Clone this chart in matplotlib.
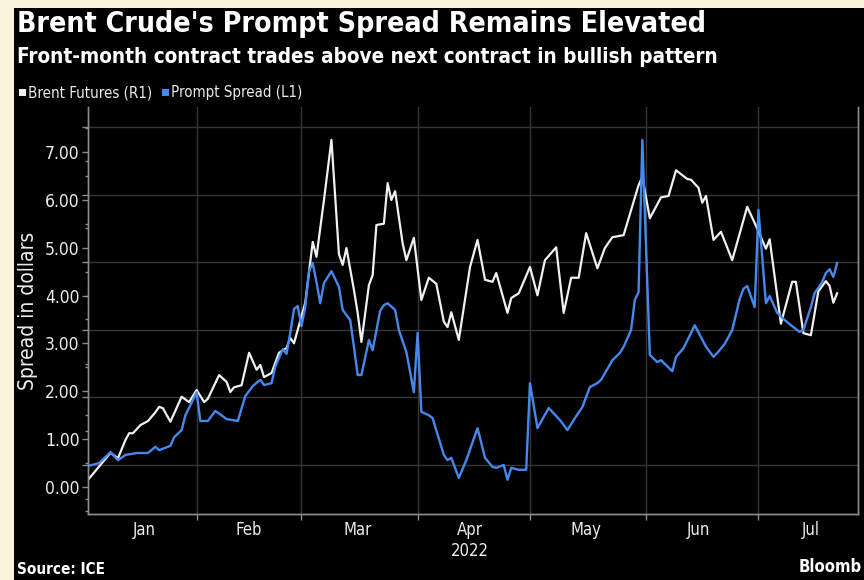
import numpy as np
import pandas as pd
import matplotlib
matplotlib.use("Agg")
import matplotlib.pyplot as plt
import matplotlib.dates as mdates
from matplotlib.patches import Rectangle
from matplotlib.ticker import MultipleLocator, FormatStrFormatter, NullFormatter

plt.rcParams['font.family'] = ['Liberation Sans Narrow', 'DejaVu Sans']
plt.rcParams['font.stretch'] = 'condensed'

# Brent futures (R1, right axis), USD/bbl
brent_dates = ["2022-01-03", "2022-01-09", "2022-01-11", "2022-01-13", "2022-01-14", "2022-01-15",
               "2022-01-17", "2022-01-19", "2022-01-21", "2022-01-22", "2022-01-23", "2022-01-25",
               "2022-01-28", "2022-01-30",
               "2022-02-01", "2022-02-03", "2022-02-04", "2022-02-07", "2022-02-09", "2022-02-10",
               "2022-02-11", "2022-02-13", "2022-02-15", "2022-02-17", "2022-02-18", "2022-02-19",
               "2022-02-21", "2022-02-23", "2022-02-25", "2022-02-26", "2022-02-27", "2022-02-28",
               "2022-03-02", "2022-03-04", "2022-03-05", "2022-03-07", "2022-03-09", "2022-03-11",
               "2022-03-12", "2022-03-13", "2022-03-15", "2022-03-16", "2022-03-17", "2022-03-19",
               "2022-03-20", "2022-03-21", "2022-03-23", "2022-03-24", "2022-03-25", "2022-03-26",
               "2022-03-28", "2022-03-29", "2022-03-31",
               "2022-04-02", "2022-04-04", "2022-04-06", "2022-04-08", "2022-04-09", "2022-04-10",
               "2022-04-12", "2022-04-15", "2022-04-17", "2022-04-19", "2022-04-21", "2022-04-22",
               "2022-04-25", "2022-04-26", "2022-04-28",
               "2022-05-01", "2022-05-03", "2022-05-05", "2022-05-08", "2022-05-10", "2022-05-12",
               "2022-05-14", "2022-05-16", "2022-05-19", "2022-05-21", "2022-05-23", "2022-05-26",
               "2022-05-28", "2022-05-30", "2022-05-31",
               "2022-06-02", "2022-06-05", "2022-06-07", "2022-06-09", "2022-06-12", "2022-06-13",
               "2022-06-15", "2022-06-16", "2022-06-17", "2022-06-19", "2022-06-21", "2022-06-24",
               "2022-06-28", "2022-06-30",
               "2022-07-03", "2022-07-04", "2022-07-07", "2022-07-10", "2022-07-11", "2022-07-13",
               "2022-07-15", "2022-07-17", "2022-07-19", "2022-07-20", "2022-07-21", "2022-07-22"]
brent_usd = [77.8, 81.8, 81.0, 83.7, 84.7, 84.7,
             85.9, 86.5, 87.8, 88.6, 88.4, 86.4,
             90.1, 89.3,
             91.1, 89.3, 89.8, 93.3, 92.3, 90.8,
             91.5, 91.8, 96.6, 94.1, 94.8, 93.0,
             93.6, 96.6, 97.3, 98.8, 98.0, 100.0,
             104.0, 113.0, 110.8, 119.2, 128.1, 111.2,
             109.6, 112.1, 105.9, 102.5, 98.2, 106.6,
             108.1, 115.5, 115.7, 121.7, 119.2, 120.5,
             112.8, 110.3, 113.6,
             104.4, 107.7, 106.8, 101.2, 100.4, 102.6,
             98.5, 109.3, 113.3, 107.4, 107.1, 108.4,
             102.5, 104.7, 105.4,
             109.3, 105.1, 110.3, 112.2, 102.5, 107.7,
             107.7, 114.3, 109.1, 112.1, 113.7, 114.0,
             117.7, 121.4, 122.6,
             116.5, 119.6, 119.8, 123.6, 122.3, 122.2,
             121.0, 118.8, 119.8, 113.3, 114.5, 110.3,
             118.2, 115.8,
             112.0, 113.4, 100.9, 107.1, 107.1, 99.5,
             99.2, 105.7, 107.2, 106.5, 104.0, 105.4]

# Prompt spread (L1, left axis), USD
spread_dates = ["2022-01-03", "2022-01-06", "2022-01-09", "2022-01-11", "2022-01-13", "2022-01-16",
                "2022-01-19", "2022-01-21", "2022-01-22", "2022-01-25", "2022-01-26", "2022-01-28",
                "2022-01-29",
                "2022-02-01", "2022-02-02", "2022-02-04", "2022-02-06", "2022-02-09", "2022-02-12",
                "2022-02-14", "2022-02-16", "2022-02-18", "2022-02-19", "2022-02-21", "2022-02-22",
                "2022-02-24", "2022-02-25", "2022-02-26", "2022-02-27", "2022-02-28",
                "2022-03-01", "2022-03-02", "2022-03-03", "2022-03-04", "2022-03-05", "2022-03-06",
                "2022-03-07", "2022-03-09", "2022-03-11", "2022-03-12", "2022-03-14", "2022-03-15",
                "2022-03-16", "2022-03-17", "2022-03-19", "2022-03-20", "2022-03-22", "2022-03-23",
                "2022-03-24", "2022-03-26", "2022-03-27", "2022-03-29", "2022-03-31",
                "2022-04-01", "2022-04-02", "2022-04-04", "2022-04-05", "2022-04-08", "2022-04-09",
                "2022-04-10", "2022-04-12", "2022-04-14", "2022-04-17", "2022-04-19", "2022-04-21",
                "2022-04-22", "2022-04-24", "2022-04-25", "2022-04-26", "2022-04-28", "2022-04-30",
                "2022-05-01", "2022-05-03", "2022-05-06", "2022-05-09", "2022-05-11", "2022-05-13",
                "2022-05-15", "2022-05-17", "2022-05-19", "2022-05-20", "2022-05-22", "2022-05-23",
                "2022-05-25", "2022-05-26", "2022-05-28", "2022-05-29", "2022-05-30", "2022-05-31",
                "2022-06-02", "2022-06-04", "2022-06-05", "2022-06-08", "2022-06-09", "2022-06-11",
                "2022-06-14", "2022-06-17", "2022-06-19", "2022-06-20", "2022-06-22", "2022-06-24",
                "2022-06-26", "2022-06-27", "2022-06-28", "2022-06-30",
                "2022-07-01", "2022-07-03", "2022-07-04", "2022-07-06", "2022-07-08", "2022-07-10",
                "2022-07-12", "2022-07-13", "2022-07-15", "2022-07-16", "2022-07-18", "2022-07-19",
                "2022-07-20", "2022-07-21", "2022-07-22"]
spread_usd = [0.44, 0.50, 0.73, 0.56, 0.67, 0.71,
              0.71, 0.84, 0.77, 0.86, 1.04, 1.19,
              1.50,
              1.98, 1.38, 1.38, 1.59, 1.42, 1.38,
              1.90, 2.11, 2.24, 2.13, 2.17, 2.51,
              2.88, 2.78, 3.22, 3.72, 3.78,
              3.36, 3.76, 4.51, 4.68, 4.28, 3.84,
              4.26, 4.51, 4.18, 3.70, 3.49, 2.93,
              2.34, 2.34, 3.07, 2.86, 3.68, 3.80,
              3.84, 3.70, 3.28, 2.82, 1.98,
              3.22, 1.57, 1.50, 1.44, 0.67, 0.56,
              0.61, 0.19, 0.56, 1.23, 0.61, 0.42,
              0.40, 0.46, 0.15, 0.40, 0.36, 0.36,
              2.17, 1.23, 1.65, 1.40, 1.19, 1.44,
              1.67, 2.09, 2.17, 2.24, 2.51, 2.65,
              2.80, 2.93, 3.28, 3.91, 4.07, 7.25,
              2.76, 2.61, 2.65, 2.42, 2.72, 2.90,
              3.38, 2.93, 2.72, 2.80, 2.99, 3.28,
              3.93, 4.14, 4.20, 3.76,
              5.79, 3.84, 3.99, 3.64, 3.49, 3.36,
              3.24, 3.28, 3.76, 4.05, 4.28, 4.47,
              4.55, 4.39, 4.68]

month_starts = ["2022-02-01", "2022-03-01", "2022-04-01", "2022-05-01", "2022-06-01", "2022-07-01"]
month_label_dates = ["2022-01-18", "2022-02-15", "2022-03-16", "2022-04-15", "2022-05-16",
                     "2022-06-15", "2022-07-15"]
month_labels = ["Jan", "Feb", "Mar", "Apr", "May", "Jun", "Jul"]

bg = "black"
fg = "#ececec"
spine_col = "#8c8c8c"
grid_col = "#363636"
white_line = "#f0f0f0"
blue_line = "#4788ee"

W, H = 864, 580
fig = plt.figure(figsize=(W / 100, H / 100), dpi=100, facecolor="#fbf3da")
fig.patches.append(Rectangle((14 / W, 0), 1, 1 - 8 / H, transform=fig.transFigure,
                             facecolor=bg, edgecolor="none", zorder=-10))

ax = fig.add_axes([88 / W, 1 - 514 / H, (858 - 88) / W, (514 - 107) / H])
ax.set_facecolor(bg)

# Brent on the base axes (right-hand scale), spread on the twin (left-hand scale)
ax.plot(pd.to_datetime(brent_dates), brent_usd, color=white_line, lw=1.6)
ax.yaxis.tick_right()
ax.set_ylim(72.75, 132.96)
ax.yaxis.set_major_locator(MultipleLocator(10))
ax.yaxis.set_minor_locator(MultipleLocator(5))
ax.tick_params(axis="y", which="both", right=True, left=False, labelright=False, labelleft=False,
               direction="out", color=spine_col, length=4, width=1)
ax.tick_params(axis="y", which="minor", length=2.5)

ax.set_xlim(pd.Timestamp("2022-01-03"), pd.Timestamp("2022-07-27 14:00"))
ax.set_xticks(pd.to_datetime(month_starts))
ax.xaxis.set_major_formatter(NullFormatter())
ax.set_xticks(pd.to_datetime(month_label_dates), minor=True)
ax.set_xticklabels(month_labels, minor=True)
ax.tick_params(axis="x", which="major", direction="out", color=spine_col, length=4, width=1)
ax.tick_params(axis="x", which="minor", length=0, pad=5, labelsize=12, labelcolor=fg)
ax.grid(True, axis="both", which="major", color=grid_col, lw=1)

ax2 = ax.twinx()
ax2.plot(pd.to_datetime(spread_dates), spread_usd, color=blue_line, lw=1.7)
ax2.yaxis.tick_left()
ax2.yaxis.set_label_position("left")
ax2.set_ylim(-0.564, 7.94)
ax2.yaxis.set_major_locator(MultipleLocator(1))
ax2.yaxis.set_minor_locator(MultipleLocator(0.5))
ax2.yaxis.set_major_formatter(FormatStrFormatter("%.2f"))
ax2.tick_params(axis="y", which="both", left=True, right=False, direction="out",
                color=spine_col, length=4, width=1, labelsize=12.5, labelcolor=fg, pad=2)
ax2.tick_params(axis="y", which="minor", length=2.5)
ax2.set_ylabel("Spread in dollars", color=fg, fontsize=15, labelpad=5)

for a in (ax, ax2):
    a.spines["top"].set_visible(False)
    for s in ("left", "right", "bottom"):
        a.spines[s].set_color(spine_col)
        a.spines[s].set_linewidth(1)

# year under April
ax.text(pd.Timestamp("2022-04-15"), -0.09, "2022", transform=ax.get_xaxis_transform(),
        ha="center", va="center", color=fg, fontsize=12)

# titles and legend
fig.text(17 / W, 1 - 24 / H, "Brent Crude's Prompt Spread Remains Elevated", color="white",
         fontsize=20.4, fontweight="bold", ha="left", va="center")
fig.text(17 / W, 1 - 57 / H, "Front-month contract trades above next contract in bullish pattern",
         color="white", fontsize=14.9, fontweight="bold", ha="left", va="center")

fig.patches.append(Rectangle((19 / W, 1 - 96 / H), 7 / W, 7 / H, transform=fig.transFigure,
                             facecolor=white_line, edgecolor="none"))
fig.text(28 / W, 1 - 93 / H, "Brent Futures (R1)", color=fg, fontsize=10.8, ha="left", va="center")
fig.patches.append(Rectangle((162 / W, 1 - 96 / H), 7 / W, 7 / H, transform=fig.transFigure,
                             facecolor=blue_line, edgecolor="none"))
fig.text(171 / W, 1 - 93 / H, "Prompt Spread (L1)", color=fg, fontsize=10.8, ha="left", va="center")

fig.text(17 / W, 1 - 569 / H, "Source: ICE", color="white", fontsize=11, fontweight="bold",
         ha="left", va="center")
# the reference image is cropped through the Bloomberg credit
fig.text(862 / W, 1 - 567 / H, "Bloomb", color="white", fontsize=12, fontweight="bold",
         ha="right", va="center")

fig.savefig("out.png", dpi=100, facecolor=fig.get_facecolor())
